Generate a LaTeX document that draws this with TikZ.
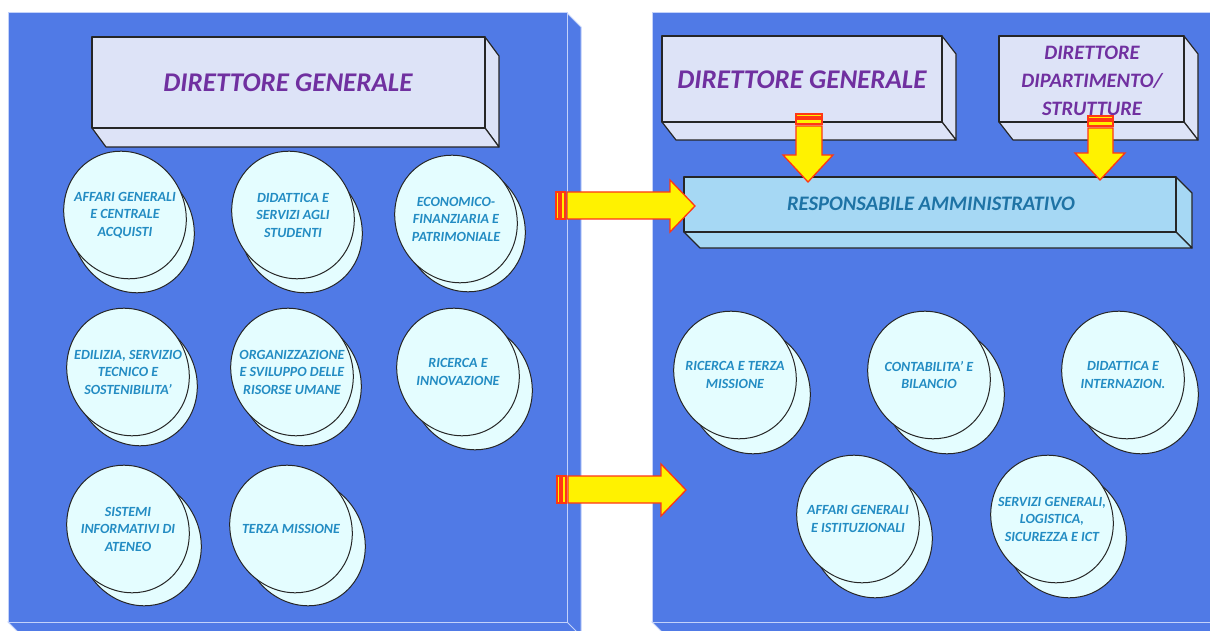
\documentclass[tikz,border=0pt]{standalone}
\usepackage{fontspec}
\setmainfont{Carlito}
\definecolor{panel}{RGB}{80,122,230}
\definecolor{paneledge}{RGB}{195,210,250}
\definecolor{lav}{RGB}{221,227,247}
\definecolor{respfill}{RGB}{166,216,244}
\definecolor{discfill}{RGB}{228,253,255}
\definecolor{purp}{RGB}{112,48,160}
\definecolor{disctxt}{RGB}{35,140,195}
\definecolor{resptxt}{RGB}{30,115,165}
\definecolor{arrline}{RGB}{255,55,20}
\newcommand\boxthree[7]{%
  \filldraw[boxline,fill=#7] (#3,#2) -- (#3+#5,#2+#6) -- (#3+#5,#4+#6) -- (#3,#4) -- cycle;
  \filldraw[boxline,fill=#7] (#1,#4) -- (#3,#4) -- (#3+#5,#4+#6) -- (#1+#5,#4+#6) -- cycle;
  \filldraw[boxline,fill=#7] (#1,#2) rectangle (#3,#4);}
\newcommand\disc[6]{%
  \filldraw[discline] (#2+#4,#3+#5) ellipse [x radius=60, y radius=65, rotate=30];
  \filldraw[discline] (#2,#3) ellipse [x radius=60, y radius=65, rotate=30];
  \node[disctext] (#1) at (#2,#3) {#6};}
% horizontal block arrow: tail x, shaft top, shaft bottom, head start, head top, head bottom, tip x
\newcommand\harrow[7]{%
  \filldraw[blockarrow] (#1,#2) rectangle (#1+3,#3);
  \filldraw[blockarrow] (#1+5,#2) rectangle (#1+9,#3);
  \filldraw[blockarrow] (#1+11,#2) -- (#4,#2) -- (#4,#5) -- (#7,{(#5+#6)/2}) -- (#4,#6) -- (#4,#3) -- (#1+11,#3) -- cycle;}
% vertical block arrow: tail y, shaft left, shaft right, head start y, head left, head right, tip y
\newcommand\varrow[7]{%
  \filldraw[blockarrow] (#2,#1) rectangle (#3,#1+3);
  \filldraw[blockarrow] (#2,#1+5) rectangle (#3,#1+10);
  \filldraw[blockarrow] (#2,#1+12) -- (#2,#4) -- (#5,#4) -- ({(#5+#6)/2},#7) -- (#6,#4) -- (#3,#4) -- (#3,#1+12) -- cycle;}
\begin{document}
\begin{tikzpicture}[x=1pt,y=-1pt,
  panelface/.style={fill=panel,draw=paneledge,line width=1pt},
  boxline/.style={draw=black!85,line width=1.2pt,line join=round},
  discline/.style={draw=black!85,line width=1pt,fill=discfill},
  disctext/.style={align=center,text=disctxt,font=\fontsize{14}{17.5}\selectfont\bfseries\itshape,inner sep=0pt},
  dgtext/.style={text=purp,font=\fontsize{27}{32}\selectfont\bfseries\itshape,inner sep=0pt},
  diptext/.style={align=center,text=purp,font=\fontsize{20.5}{28}\selectfont\bfseries\itshape,inner sep=0pt},
  resptext/.style={text=resptxt,font=\fontsize{20.6}{24}\selectfont\bfseries\itshape,inner sep=0pt},
  blockarrow/.style={fill=yellow,draw=arrline,line width=1.3pt,line join=miter}]
\useasboundingbox (0,0) rectangle (1210,631);
\fill[white] (0,0) rectangle (1210,631);
\clip (0,0) rectangle (1210,631);
% left panel
\filldraw[panelface] (567,13) -- (581,27) -- (581,645) -- (567,622) -- cycle;
\filldraw[panelface] (8,622) -- (567,622) -- (581,636) -- (22,636) -- cycle;
\filldraw[panelface] (8,13) rectangle (567,622);
% right panel
\filldraw[panelface] (652,622) -- (1230,622) -- (1230,636) -- (666,636) -- cycle;
\filldraw[panelface] (652,13) rectangle (1230,622);
% boxes
\boxthree{92}{37}{485}{128}{14}{19}{lav}
\node[dgtext] (dgL) at (288,83) {DIRETTORE GENERALE};
\boxthree{662}{36}{942}{122}{14}{18}{lav}
\node[dgtext] (dgR) at (802,80) {DIRETTORE GENERALE};
\boxthree{999}{36}{1184}{122}{14}{18}{lav}
\node[diptext] (dip) at (1092,81) {DIRETTORE\\DIPARTIMENTO/\\STRUTTURE};
\boxthree{684}{177}{1176}{232}{16}{16}{respfill}
\node[resptext] (resp) at (931,204) {RESPONSABILE AMMINISTRATIVO};
% left discs
\disc{a1}{125}{215}{8}{14}{AFFARI GENERALI\\E CENTRALE\\ACQUISTI}
\disc{a2}{293}{215}{8}{14}{DIDATTICA E\\SERVIZI AGLI\\STUDENTI}
\disc{a3}{456}{219}{8}{9}{ECONOMICO-\\FINANZIARIA E\\PATRIMONIALE}
\disc{b1}{128}{372}{8}{10}{EDILIZIA, SERVIZIO\\TECNICO E\\SOSTENIBILITA'}
\disc{b2}{292}{372}{8}{10}{ORGANIZZAZIONE\\E SVILUPPO DELLE\\RISORSE UMANE}
\disc{b3}{458}{372}{13}{14}{RICERCA E\\INNOVAZIONE}
\disc{c1}{128}{529}{12}{13}{SISTEMI\\INFORMATIVI DI\\ATENEO}
\disc{c2}{291}{529}{13}{13}{TERZA MISSIONE}
% right discs
\disc{r1}{735}{375}{14}{15}{RICERCA E TERZA\\MISSIONE}
\disc{r2}{929}{375}{14}{15}{CONTABILITA' E\\BILANCIO}
\disc{r3}{1123}{375}{14}{15}{DIDATTICA E\\INTERNAZION.}
\disc{s1}{858}{519}{13}{15}{AFFARI GENERALI\\E ISTITUZIONALI}
\disc{s2}{1052}{519}{13}{15}{SERVIZI GENERALI,\\LOGISTICA,\\SICUREZZA E ICT}
% arrows
\harrow{556}{192}{219}{670}{180}{232}{695}
\harrow{557}{476}{503}{661}{464}{516}{686}
\varrow{114}{796}{822}{155}{783}{833}{182}
\varrow{116}{1088}{1113}{153}{1075}{1125}{180}
\end{tikzpicture}
\end{document}
